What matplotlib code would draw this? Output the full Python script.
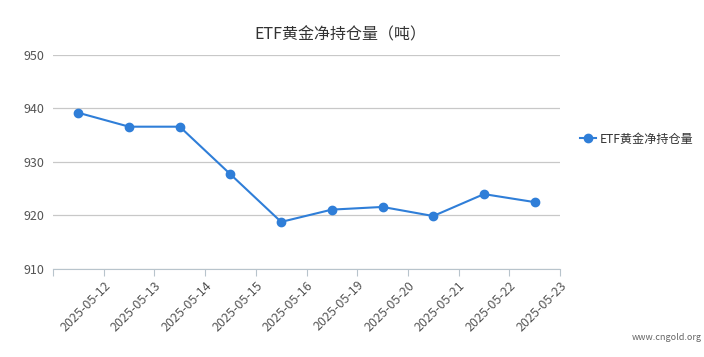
import matplotlib
matplotlib.use("Agg")
import matplotlib.pyplot as plt
from matplotlib.lines import Line2D

plt.rcParams['font.family'] = ['Noto Sans CJK SC', 'DejaVu Sans']

dates = ["2025-05-12", "2025-05-13", "2025-05-14", "2025-05-15", "2025-05-16",
         "2025-05-19", "2025-05-20", "2025-05-21", "2025-05-22", "2025-05-23"]
holdings = [939.2, 936.6, 936.6, 927.7, 918.8, 921.1, 921.6, 919.9, 924.0, 922.5]
y_ticks = [910, 920, 930, 940, 950]
title = "ETF黄金净持仓量（吨）"
series_name = "ETF黄金净持仓量"

W, H = 704, 357
fig = plt.figure(figsize=(W / 100, H / 100), dpi=100)
left, right, top, bottom = 53, 560, 55, 269
ax = fig.add_axes([left / W, 1 - bottom / H, (right - left) / W, (bottom - top) / H])

color = "#2f7ed8"
n = len(dates)
xs = list(range(n))
ax.plot(xs, holdings, color=color, lw=1.5, marker="o", ms=6, zorder=3)

ax.set_xlim(-0.5, n - 0.5)
ax.set_ylim(y_ticks[0], y_ticks[-1])
ax.set_yticks(y_ticks)
ax.set_yticklabels([str(v) for v in y_ticks], fontsize=9, color="#555555")
ax.tick_params(axis="y", length=0, pad=6)
ax.grid(axis="y", color="#c8c8c8", lw=0.9)
ax.set_axisbelow(True)

# category boundary ticks, labels at boundaries
bounds = [i - 0.5 for i in range(n + 1)]
ax.set_xticks(bounds)
ax.set_xticklabels([""] + dates, rotation=45, ha="right", rotation_mode="anchor",
                   fontsize=9, color="#555555")
ax.tick_params(axis="x", length=5, color="#b8c4cc", pad=2)

for s in ["top", "right", "left"]:
    ax.spines[s].set_visible(False)
ax.spines["bottom"].set_color("#b8c4cc")

fig.text(340 / W, 1 - 35 / H, title, ha="center", va="center", fontsize=11.5, color="#333333")

handle = Line2D([0], [0], color=color, lw=1.5, marker="o", ms=6)
fig.legend([handle], [series_name], loc="center left", bbox_to_anchor=(569 / W, 1 - 139 / H),
           frameon=False, fontsize=8.7, handlelength=1.3, handletextpad=0.35,
           labelcolor="#333333")

fig.text(702 / W, 1 - 337 / H, "www.cngold.org", ha="right", va="center", fontsize=6.5, color="#666666")

fig.savefig("out.png", dpi=100, facecolor="white")
